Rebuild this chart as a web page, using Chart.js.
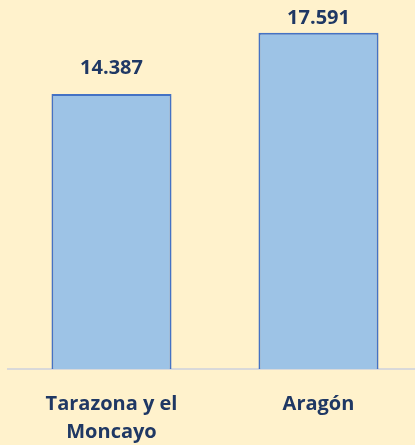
<!DOCTYPE html>
<html>
<head>
<meta charset="utf-8">
<script src="https://cdn.jsdelivr.net/npm/chart.js@4"></script>
<style>
    html, body { margin: 0; padding: 0; background: #FFF2CC; overflow: hidden; }
    #wrap { width: 422px; height: 445px; }
</style>
</head>
<body>
<div id="wrap"><canvas id="popChart"></canvas></div>
<script>
// values
const categories = [['Tarazona y el', 'Moncayo'], 'Aragón'];
const values = [14387, 17591];
const valueLabels = ['14.387', '17.591'];

const textColor = '#1F3864';

// value labels above each bar
const barLabels = {
    id: 'barLabels',
    afterDatasetsDraw(chart) {
        const ctx = chart.ctx;
        const meta = chart.getDatasetMeta(0);
        ctx.save();
        ctx.font = 'bold 20px "Open Sans"';
        ctx.fillStyle = textColor;
        ctx.textAlign = 'center';
        ctx.textBaseline = 'middle';
        meta.data.forEach((bar, i) => {
            const y = Math.max(bar.y - 26, 18);
            ctx.fillText(valueLabels[i], bar.x, y);
        });
        ctx.restore();
    }
};

new Chart(document.getElementById('popChart').getContext('2d'), {
    type: 'bar',
    data: {
        labels: categories,
        datasets: [{
            data: values,
            backgroundColor: '#9DC3E6',
            borderColor: '#4472C4',
            borderWidth: 2,
            categoryPercentage: 1,
            barPercentage: 0.58
        }]
    },
    options: {
        responsive: true,
        maintainAspectRatio: false,
        animation: false,
        layout: { padding: { top: 25, left: 8, right: 0, bottom: 0 } },
        plugins: {
            legend: { display: false },
            tooltip: { enabled: false }
        },
        scales: {
            x: {
                grid: { display: false },
                border: { display: true, color: '#D9D9D9', width: 2 },
                ticks: {
                    color: textColor,
                    font: { family: 'Open Sans', size: 20, weight: 'bold', lineHeight: 1.4 },
                    padding: 13,
                    maxRotation: 0
                },
                afterFit(scale) { scale.height = 76; }
            },
            y: {
                display: false,
                min: 0,
                max: 18000
            }
        }
    },
    plugins: [barLabels]
});
</script>
</body>
</html>
